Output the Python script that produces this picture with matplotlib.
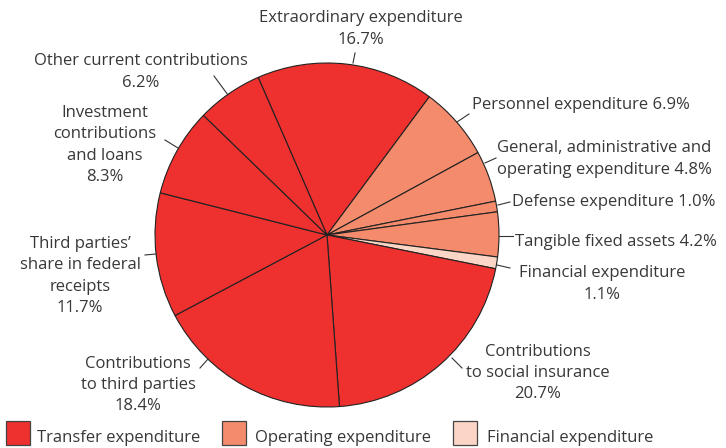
import matplotlib
matplotlib.use("Agg")
import matplotlib.pyplot as plt
from matplotlib.patches import Rectangle

# ---- data ----
categories = [
    "Extraordinary expenditure",
    "Personnel expenditure",
    "General, administrative and operating expenditure",
    "Defense expenditure",
    "Tangible fixed assets",
    "Financial expenditure",
    "Contributions to social insurance",
    "Contributions to third parties",
    "Third parties' share in federal receipts",
    "Investment contributions and loans",
    "Other current contributions",
]
values = [16.7, 6.9, 4.8, 1.0, 4.2, 1.1, 20.7, 18.4, 11.7, 8.3, 6.2]
groups = ["Transfer", "Operating", "Operating", "Operating", "Operating",
          "Financial", "Transfer", "Transfer", "Transfer", "Transfer", "Transfer"]
display_labels = [
    "Extraordinary expenditure\n16.7%",
    "Personnel expenditure 6.9%",
    "General, administrative and\noperating expenditure 4.8%",
    "Defense expenditure 1.0%",
    "Tangible fixed assets 4.2%",
    "Financial expenditure\n1.1%",
    "Contributions\nto social insurance\n20.7%",
    "Contributions\nto third parties\n18.4%",
    "Third parties\u2019\nshare in federal\nreceipts\n11.7%",
    "Investment\ncontributions\nand loans\n8.3%",
    "Other current contributions\n6.2%",
]
legend_names = ["Transfer expenditure", "Operating expenditure", "Financial expenditure"]
legend_groups = ["Transfer", "Operating", "Financial"]

# ---- styles ----
colors = {"Transfer": "#EE302E", "Operating": "#F38B6C", "Financial": "#FBD5C5"}
TXT = "#383838"
W, H = 726, 448
CX, CY, R = 327, 235, 172
FS = 12

# label placement (pixel coords from top-left): x, y, ha
label_pos = [
    (361, 29, "center"),
    (472, 105, "left"),
    (497, 159, "left"),
    (512, 202, "left"),
    (515, 242, "left"),
    (602, 284, "center"),
    (538, 373, "center"),
    (138, 385, "center"),
    (80, 276, "center"),
    (105, 145, "center"),
    (141, 72, "center"),
]
leaders = [
    ((353, 63), (355, 53)),
    ((457, 122), (469, 114)),
    ((485, 163), (496, 158)),
    ((498, 205), (510, 202)),
    ((499, 236), (513, 236)),
    ((497, 265), (510, 268)),
    ((452, 358), (462, 368)),
    ((200, 368), (208, 359)),
    ((145, 255), (156, 254)),
    ((165, 140), (178, 148)),
    ((214, 76), (228, 95)),
]

plt.rcParams["font.family"] = ["Open Sans", "DejaVu Sans"]
fig = plt.figure(figsize=(W / 100, H / 100), dpi=100)
ax = fig.add_axes([0, 0, 1, 1])

start = 113.6
ax.pie(values, colors=[colors[g] for g in groups], startangle=start,
       counterclock=False, center=(CX, H - CY), radius=R,
       wedgeprops=dict(edgecolor="#222222", linewidth=0.8), frame=True)
ax.set_xlim(0, W)
ax.set_ylim(0, H)
ax.set_aspect("equal")
ax.axis("off")

for lab, (x, y, ha) in zip(display_labels, label_pos):
    ax.text(x, H - y, lab, ha=ha, va="center", fontsize=FS, color=TXT,
            linespacing=1.45)
for (p0, p1) in leaders:
    ax.plot([p0[0], p1[0]], [H - p0[1], H - p1[1]], color="#333333", lw=0.8)

# legend
lx = [6, 222, 453]
tx = [37, 255, 487]
for name, g, x0, t0 in zip(legend_names, legend_groups, lx, tx):
    ax.add_patch(Rectangle((x0, H - 445), 24, 24, facecolor=colors[g],
                           edgecolor="#444444", linewidth=0.9))
    ax.text(t0, H - 438, name, ha="left", va="center", fontsize=FS, color=TXT)

fig.savefig("out.png", dpi=100)
